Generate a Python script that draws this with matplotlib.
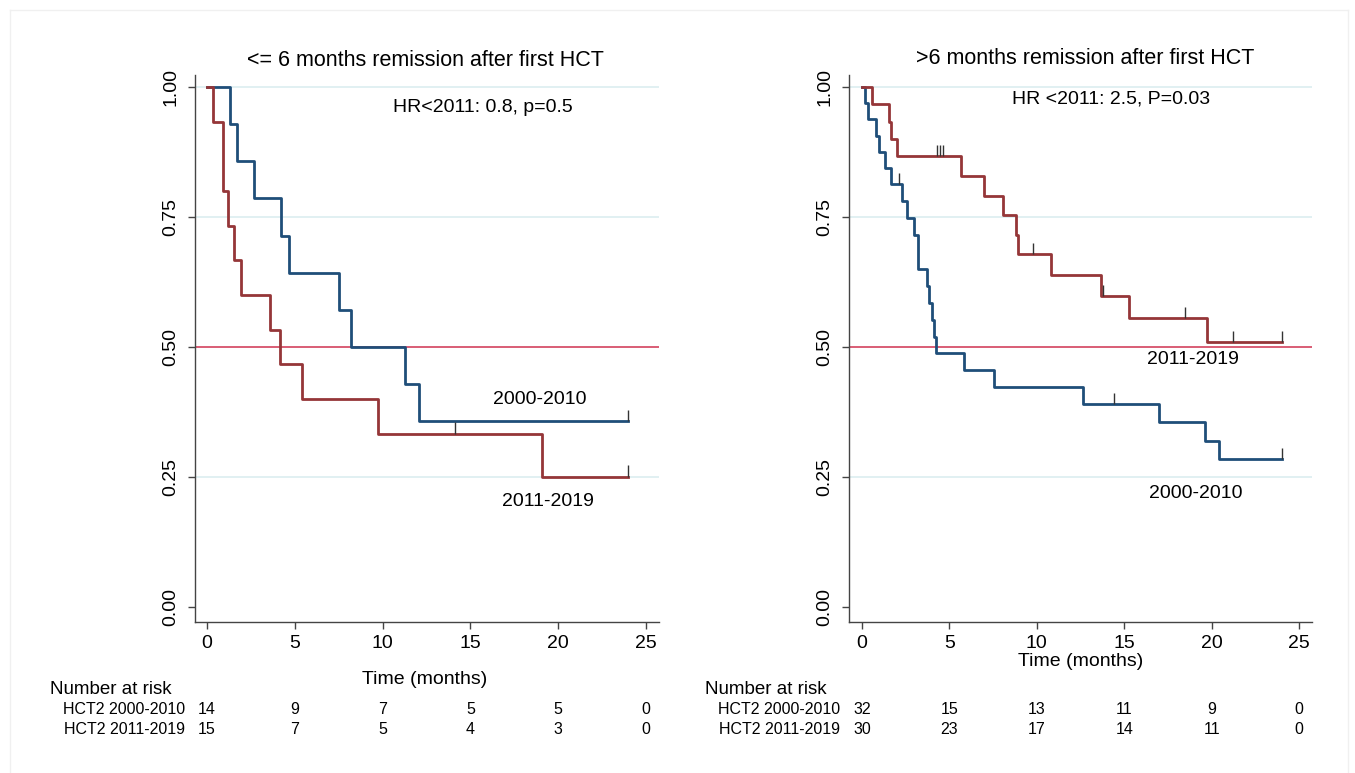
import matplotlib
matplotlib.use("Agg")
import matplotlib.pyplot as plt
import matplotlib.transforms as mtransforms
from matplotlib.lines import Line2D

plt.rcParams['font.family'] = ['Liberation Sans', 'DejaVu Sans']

# ---------------- data ----------------
titles = ["<= 6 months remission after first HCT", ">6 months remission after first HCT"]
hr_texts = ["HR<2011: 0.8, p=0.5", "HR <2011: 2.5, P=0.03"]
group_labels = ["HCT2 2000-2010", "HCT2 2011-2019"]
risk_times = [0, 5, 10, 15, 20, 25]
xticks = [0, 5, 10, 15, 20, 25]
yticks = [0.00, 0.25, 0.50, 0.75, 1.00]
ytick_labels = ["0.00", "0.25", "0.50", "0.75", "1.00"]

# Left panel (<= 6 months)
L_blue_t = [0, 1.31, 1.73, 2.69, 4.19, 4.65, 7.5, 8.2, 11.28, 12.09, 24.0]
L_blue_s = [1.0, 0.929, 0.857, 0.786, 0.714, 0.643, 0.571, 0.5, 0.429, 0.357, 0.357]
L_blue_cens_t = [24.0]
L_blue_cens_s = [0.357]
L_red_t = [0, 0.36, 0.93, 1.18, 1.54, 1.94, 3.59, 4.16, 5.39, 9.74, 19.1, 24.0]
L_red_s = [1.0, 0.933, 0.8, 0.733, 0.667, 0.6, 0.533, 0.467, 0.4, 0.333, 0.25, 0.25]
L_red_cens_t = [14.1, 24.0]
L_red_cens_s = [0.333, 0.25]
L_risk_blue = [14, 9, 7, 5, 5, 0]
L_risk_red = [15, 7, 5, 4, 3, 0]

# Right panel (> 6 months)
R_blue_t = [0, 0.18, 0.37, 0.82, 0.95, 1.33, 1.65, 2.27, 2.56, 2.95, 3.23, 3.71, 3.86,
            4.0, 4.14, 4.24, 5.84, 7.55, 12.63, 17.0, 19.64, 20.4, 24.0]
R_blue_s = [1.0, 0.969, 0.938, 0.906, 0.875, 0.844, 0.813, 0.78, 0.748, 0.715, 0.65, 0.617,
            0.585, 0.552, 0.52, 0.488, 0.455, 0.423, 0.39, 0.355, 0.319, 0.284, 0.284]
R_blue_cens_t = [2.12, 14.4, 24.0]
R_blue_cens_s = [0.813, 0.39, 0.284]
R_red_t = [0, 0.6, 1.57, 1.67, 1.99, 5.67, 6.98, 8.04, 8.8, 8.93, 10.8, 13.7, 15.27, 19.75, 24.0]
R_red_s = [1.0, 0.967, 0.933, 0.9, 0.867, 0.829, 0.791, 0.753, 0.715, 0.678, 0.638, 0.598,
           0.555, 0.509, 0.509]
R_red_cens_t = [4.27, 4.46, 4.65, 9.8, 13.8, 18.5, 21.2, 24.0]
R_red_cens_s = [0.867, 0.867, 0.867, 0.678, 0.598, 0.555, 0.509, 0.509]
R_risk_blue = [32, 15, 13, 11, 9, 0]
R_risk_red = [30, 23, 17, 14, 11, 0]

# ---------------- style ----------------
W, H = 1355, 773
BLUE = "#1f4e79"
RED = "#953638"
REF = "#d0314f"
GRID = "#dcedf0"
AXC = "#444444"

fig = plt.figure(figsize=(W / 100, H / 100), dpi=100)
fig.patch.set_facecolor("white")

def fx(px):
    return px / W

def fy(py):
    return 1 - py / H

# faint frame
for xs, ys in [([10, 10], [10, 773]), ([10, 1348], [10, 10]), ([1348, 1348], [10, 773])]:
    fig.add_artist(Line2D([fx(v) for v in xs], [fy(v) for v in ys],
                          color="#f0f0f0", lw=1, transform=fig.transFigure))

panels = [
    dict(rect=[fx(195), fy(622), fx(659) - fx(195), fy(75) - fy(622)], xlim=(-0.68, 25.74),
         blue=(L_blue_t, L_blue_s, L_blue_cens_t, L_blue_cens_s),
         red=(L_red_t, L_red_s, L_red_cens_t, L_red_cens_s),
         title=titles[0], title_xy=(425, 60), hr=hr_texts[0], hr_xy=(393, 107),
         lab_blue=(540, 399), lab_red=(548, 502), time_xy=(425, 680),
         nar_xy=(50, 690), rowlab_x=185,
         risk_blue=L_risk_blue, risk_red=L_risk_red),
    dict(rect=[fx(849), fy(622), fx(1312) - fx(849), fy(75) - fy(622)], xlim=(-0.74, 25.74),
         blue=(R_blue_t, R_blue_s, R_blue_cens_t, R_blue_cens_s),
         red=(R_red_t, R_red_s, R_red_cens_t, R_red_cens_s),
         title=titles[1], title_xy=(1085, 58), hr=hr_texts[1], hr_xy=(1012, 99),
         lab_blue=(1196, 494), lab_red=(1193, 359), time_xy=(1081, 662),
         nar_xy=(705, 690), rowlab_x=840,
         risk_blue=R_risk_blue, risk_red=R_risk_red),
]

for p in panels:
    ax = fig.add_axes(p["rect"])
    ax.set_xlim(*p["xlim"])
    ax.set_ylim(-0.029, 1.023)
    for yv in [0.25, 0.75, 1.0]:
        ax.axhline(yv, color=GRID, lw=1.2, zorder=0)
    ax.axhline(0.5, color=REF, lw=1.1, zorder=1)

    for (t, s, ct, cs), col in [(p["blue"], BLUE), (p["red"], RED)]:
        ax.step(t, s, where="post", color=col, lw=2.0, zorder=3)
        ax.vlines(ct, cs, [v + 0.022 for v in cs], color="#333333", lw=1.0, zorder=4)

    ax.set_xticks(xticks)
    ax.set_xticklabels([str(v) for v in xticks], fontsize=14)
    ax.set_yticks(yticks)
    ax.set_yticklabels(ytick_labels, fontsize=14, rotation=90, va="center")
    ax.tick_params(axis="both", direction="out", length=5, width=1, color=AXC)
    ax.tick_params(axis="x", pad=4)
    ax.tick_params(axis="y", pad=6)
    for sp in ["top", "right"]:
        ax.spines[sp].set_visible(False)
    for sp in ["left", "bottom"]:
        ax.spines[sp].set_color(AXC)
        ax.spines[sp].set_linewidth(1.0)

    fig.text(fx(p["title_xy"][0]), fy(p["title_xy"][1]), p["title"], fontsize=15.5,
             ha="center", va="center")
    fig.text(fx(p["hr_xy"][0]), fy(p["hr_xy"][1]), p["hr"], fontsize=14,
             ha="left", va="center")
    fig.text(fx(p["lab_blue"][0]), fy(p["lab_blue"][1]), "2000-2010", fontsize=14,
             ha="center", va="center")
    fig.text(fx(p["lab_red"][0]), fy(p["lab_red"][1]), "2011-2019", fontsize=14,
             ha="center", va="center")
    fig.text(fx(p["time_xy"][0]), fy(p["time_xy"][1]), "Time (months)", fontsize=14,
             ha="center", va="center")

    # number at risk table
    fig.text(fx(p["nar_xy"][0]), fy(p["nar_xy"][1]), "Number at risk", fontsize=13.5,
             ha="left", va="center")
    trans = mtransforms.blended_transform_factory(ax.transData, fig.transFigure)
    for row_y, lab, vals in [(710, group_labels[0], p["risk_blue"]),
                             (729, group_labels[1], p["risk_red"])]:
        fig.text(fx(p["rowlab_x"]), fy(row_y), lab, fontsize=11.5, ha="right", va="center")
        for tv, nv in zip(risk_times, vals):
            ax.text(tv, fy(row_y), str(nv), fontsize=11.5, ha="center", va="center",
                    transform=trans, clip_on=False)

fig.savefig("out.png", dpi=100, facecolor="white")
